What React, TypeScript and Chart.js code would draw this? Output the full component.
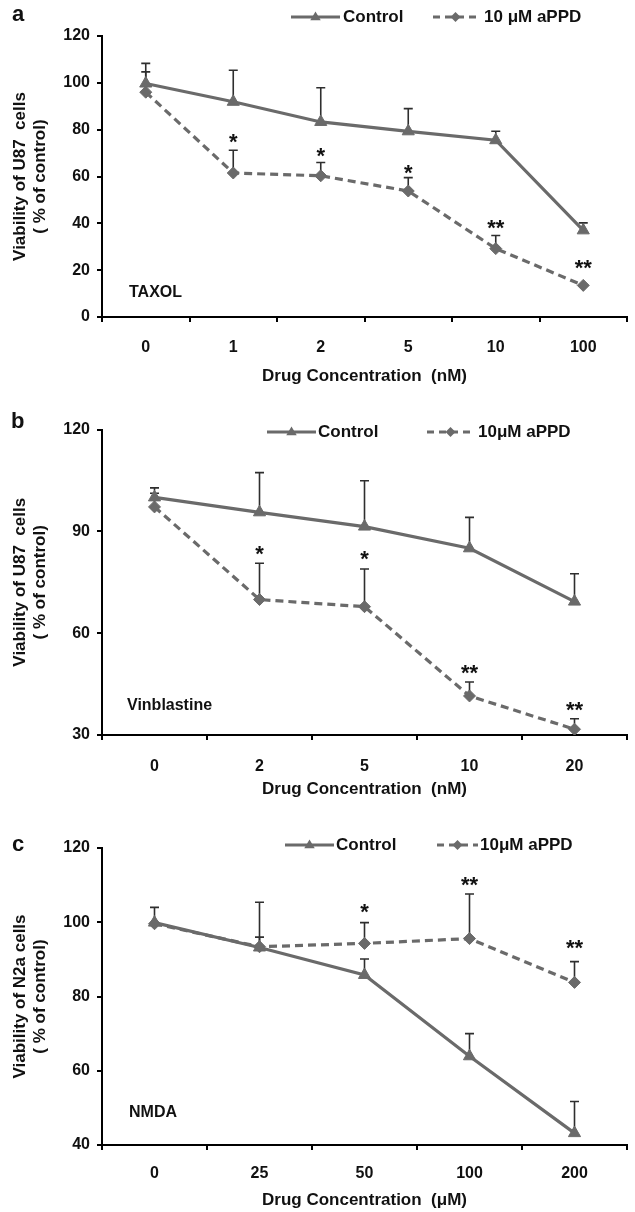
import React, { useEffect, useRef } from "react";
import { Chart, registerables } from "chart.js";

Chart.register(...registerables);

const FONT_FAMILY = '"Liberation Sans", Arial, Helvetica, sans-serif';
const LINE_GRAY = "#6a6a6a";
const ERR_COLOR = "#2e2e2e";
const TEXT_COLOR = "#111111";

// ---------- Panel a : TAXOL ----------
const taxolLabels = ["0", "1", "2", "5", "10", "100"];
const taxolControl = [99.7, 91.9, 83.3, 79.3, 75.5, 37.0];
const taxolControlErr = [108.3, 105.4, 97.9, 89.0, 79.3, 40.2];
const taxolAppd = [96.0, 61.5, 60.3, 53.8, 29.2, 13.5];
const taxolAppdErr = [104.7, 71.2, 66.0, 59.5, 34.8, null];
const taxolStars = ["", "*", "*", "*", "**", "**"];
const taxolStarValues = [null, 75.8, 69.8, 62.3, 38.9, 22.0];

// ---------- Panel b : Vinblastine ----------
const vinLabels = ["0", "2", "5", "10", "20"];
const vinControl = [100.0, 95.6, 91.4, 85.0, 69.3];
const vinControlErr = [102.8, 107.3, 104.9, 94.1, 77.5];
const vinAppd = [97.2, 69.9, 67.8, 41.5, 31.7];
const vinAppdErr = [101.2, 80.6, 78.9, 45.6, 34.8];
const vinStars = ["", "*", "*", "**", "**"];
const vinStarValues = [null, 84.0, 82.5, 48.9, 38.0];

// ---------- Panel c : NMDA ----------
const nmdaLabels = ["0", "25", "50", "100", "200"];
const nmdaControl = [99.9, 93.2, 85.8, 63.9, 43.2];
const nmdaControlErr = [104.0, 96.0, 90.1, 70.0, 51.7];
const nmdaAppd = [99.6, 93.4, 94.3, 95.6, 83.8];
const nmdaAppdErr = [null, 105.4, 99.9, 107.6, 89.4];
const nmdaStars = ["", "", "*", "**", "**"];
const nmdaStarValues = [null, null, 103.3, 110.6, 93.7];

type Panel = {
  letter: string;
  drug: string;
  labels: string[];
  control: number[];
  controlErr: (number | null)[];
  appd: number[];
  appdErr: (number | null)[];
  stars: string[];
  starValues: (number | null)[];
  yMin: number;
  yMax: number;
  yStep: number;
  yTitle: string[];
  xTitle: string;
  appdLegend: string;
  layout: {
    top: number;
    height: number;
    padTop: number;
    padRight: number;
    xAxisHeight: number;
    tickPad: number;
    titlePadBottom: number;
    legendY: number;
    controlLine: [number, number];
    controlText: number;
    appdLine: [number, number];
    appdText: number;
    letterX: number;
    letterY: number;
    drugDx: number;
    drugDy: number;
  };
};

const panels: Panel[] = [
  {
    letter: "a",
    drug: "TAXOL",
    labels: taxolLabels,
    control: taxolControl,
    controlErr: taxolControlErr,
    appd: taxolAppd,
    appdErr: taxolAppdErr,
    stars: taxolStars,
    starValues: taxolStarValues,
    yMin: 0,
    yMax: 120,
    yStep: 20,
    yTitle: ["Viability of U87  cells", "( % of control)"],
    xTitle: "Drug Concentration  (nM)",
    appdLegend: "10 \u03bcM aPPD",
    layout: {
      top: 0,
      height: 395,
      padTop: 36,
      padRight: 4.5,
      xAxisHeight: 78,
      tickPad: 16,
      titlePadBottom: 8,
      legendY: 17,
      controlLine: [291, 340],
      controlText: 343,
      appdLine: [433, 478],
      appdText: 484,
      letterX: 12,
      letterY: 15,
      drugDx: 27,
      drugDy: 24,
    },
  },
  {
    letter: "b",
    drug: "Vinblastine",
    labels: vinLabels,
    control: vinControl,
    controlErr: vinControlErr,
    appd: vinAppd,
    appdErr: vinAppdErr,
    stars: vinStars,
    starValues: vinStarValues,
    yMin: 30,
    yMax: 120,
    yStep: 30,
    yTitle: ["Viability of U87  cells", "( % of control)"],
    xTitle: "Drug Concentration  (nM)",
    appdLegend: "10\u03bcM aPPD",
    layout: {
      top: 395,
      height: 410,
      padTop: 34.5,
      padRight: 4.5,
      xAxisHeight: 70,
      tickPad: 17,
      titlePadBottom: 5,
      legendY: 37,
      controlLine: [267, 316],
      controlText: 318,
      appdLine: [427, 474],
      appdText: 478,
      letterX: 11,
      letterY: 27,
      drugDx: 25,
      drugDy: 29,
    },
  },
  {
    letter: "c",
    drug: "NMDA",
    labels: nmdaLabels,
    control: nmdaControl,
    controlErr: nmdaControlErr,
    appd: nmdaAppd,
    appdErr: nmdaAppdErr,
    stars: nmdaStars,
    starValues: nmdaStarValues,
    yMin: 40,
    yMax: 120,
    yStep: 20,
    yTitle: ["Viability of N2a cells", "( % of control)"],
    xTitle: "Drug Concentration  (\u03bcM)",
    appdLegend: "10\u03bcM aPPD",
    layout: {
      top: 805,
      height: 407,
      padTop: 43,
      padRight: 1,
      xAxisHeight: 67,
      tickPad: 14,
      titlePadBottom: 1,
      legendY: 40,
      controlLine: [285, 334],
      controlText: 336,
      appdLine: [437, 478],
      appdText: 480,
      letterX: 12,
      letterY: 40,
      drugDx: 27,
      drugDy: 32,
    },
  },
];

function drawTriangle(ctx: CanvasRenderingContext2D, x: number, y: number, r: number) {
  ctx.beginPath();
  ctx.moveTo(x, y - r);
  ctx.lineTo(x + r * 0.95, y + r * 0.6);
  ctx.lineTo(x - r * 0.95, y + r * 0.6);
  ctx.closePath();
  ctx.fill();
}

function drawDiamond(ctx: CanvasRenderingContext2D, x: number, y: number, r: number) {
  ctx.beginPath();
  ctx.moveTo(x, y - r);
  ctx.lineTo(x + r, y);
  ctx.lineTo(x, y + r);
  ctx.lineTo(x - r, y);
  ctx.closePath();
  ctx.fill();
}

function makePlugin(p: Panel) {
  return {
    id: "panelDecor" + p.letter,
    beforeDatasetsDraw(chart: any) {
      const ctx: CanvasRenderingContext2D = chart.ctx;
      const xs = chart.scales.x;
      const ys = chart.scales.y;
      ctx.save();
      ctx.strokeStyle = ERR_COLOR;
      ctx.lineWidth = 1.6;
      const series: [number[], (number | null)[]][] = [
        [p.control, p.controlErr],
        [p.appd, p.appdErr],
      ];
      series.forEach(([vals, errs]) => {
        vals.forEach((v, i) => {
          const e = errs[i];
          if (e === null || e === undefined) return;
          const x = xs.getPixelForValue(i);
          const y0 = ys.getPixelForValue(v);
          const y1 = ys.getPixelForValue(e);
          ctx.beginPath();
          ctx.moveTo(x, y0);
          ctx.lineTo(x, y1);
          ctx.moveTo(x - 4.5, y1);
          ctx.lineTo(x + 4.5, y1);
          ctx.stroke();
        });
      });
      ctx.restore();
    },
    afterDraw(chart: any) {
      const ctx: CanvasRenderingContext2D = chart.ctx;
      const xs = chart.scales.x;
      const ys = chart.scales.y;
      const area = chart.chartArea;
      const L = p.layout;
      ctx.save();
      // significance stars
      ctx.fillStyle = TEXT_COLOR;
      ctx.font = `bold 22px ${FONT_FAMILY}`;
      ctx.textAlign = "center";
      ctx.textBaseline = "middle";
      p.stars.forEach((s, i) => {
        const v = p.starValues[i];
        if (!s || v === null) return;
        ctx.fillText(s, xs.getPixelForValue(i), ys.getPixelForValue(v) + 3);
      });
      // drug label
      ctx.textAlign = "left";
      ctx.font = `bold 16px ${FONT_FAMILY}`;
      ctx.fillText(p.drug, area.left + L.drugDx, area.bottom - L.drugDy);
      // panel letter
      ctx.font = `bold 22px ${FONT_FAMILY}`;
      ctx.fillText(p.letter, L.letterX, L.letterY);
      // legend
      ctx.strokeStyle = LINE_GRAY;
      ctx.fillStyle = LINE_GRAY;
      ctx.lineWidth = 3;
      ctx.beginPath();
      ctx.moveTo(L.controlLine[0], L.legendY);
      ctx.lineTo(L.controlLine[1], L.legendY);
      ctx.stroke();
      drawTriangle(ctx, (L.controlLine[0] + L.controlLine[1]) / 2, L.legendY, 5.5);
      ctx.setLineDash([7, 5]);
      ctx.beginPath();
      ctx.moveTo(L.appdLine[0], L.legendY);
      ctx.lineTo(L.appdLine[1], L.legendY);
      ctx.stroke();
      ctx.setLineDash([]);
      drawDiamond(ctx, (L.appdLine[0] + L.appdLine[1]) / 2, L.legendY, 5);
      ctx.fillStyle = TEXT_COLOR;
      ctx.font = `bold 17px ${FONT_FAMILY}`;
      ctx.fillText("Control", L.controlText, L.legendY);
      ctx.fillText(p.appdLegend, L.appdText, L.legendY);
      ctx.restore();
    },
  };
}

function PanelChart({ panel }: { panel: Panel }) {
  const ref = useRef<HTMLCanvasElement | null>(null);
  useEffect(() => {
    if (!ref.current) return;
    const L = panel.layout;
    const tickFont = { family: FONT_FAMILY, size: 16, weight: "bold" as const };
    const titleFont = { family: FONT_FAMILY, size: 17, weight: "bold" as const, lineHeight: 1.2 };
    const chart = new Chart(ref.current, {
      type: "line",
      data: {
        labels: panel.labels,
        datasets: [
          {
            label: "Control",
            data: panel.control,
            borderColor: LINE_GRAY,
            backgroundColor: LINE_GRAY,
            borderWidth: 3.2,
            pointStyle: "triangle",
            pointRadius: 7,
            pointBackgroundColor: LINE_GRAY,
            pointBorderColor: LINE_GRAY,
            pointBorderWidth: 1,
            tension: 0,
            fill: false,
          },
          {
            label: panel.appdLegend,
            data: panel.appd,
            borderColor: LINE_GRAY,
            backgroundColor: LINE_GRAY,
            borderWidth: 3.2,
            borderDash: [8, 5],
            pointStyle: "rectRot",
            pointRadius: 6,
            pointBackgroundColor: LINE_GRAY,
            pointBorderColor: LINE_GRAY,
            pointBorderWidth: 1,
            tension: 0,
            fill: false,
          },
        ],
      },
      options: {
        responsive: false,
        maintainAspectRatio: false,
        animation: false,
        devicePixelRatio: 1,
        layout: { padding: { top: L.padTop, right: L.padRight, left: 0, bottom: 0 } },
        plugins: {
          legend: { display: false },
          tooltip: { enabled: false },
          title: { display: false },
        },
        scales: {
          x: {
            type: "category",
            offset: true,
            grid: {
              display: true,
              drawOnChartArea: false,
              drawTicks: true,
              tickLength: 5,
              color: "#000",
              lineWidth: 2,
              offset: true,
            },
            border: { display: true, color: "#000", width: 2 },
            ticks: { color: TEXT_COLOR, font: tickFont, padding: L.tickPad, maxRotation: 0 },
            title: {
              display: true,
              text: panel.xTitle,
              color: TEXT_COLOR,
              font: titleFont,
              padding: { top: 0, bottom: L.titlePadBottom },
            },
            afterFit: (s: any) => {
              s.height = L.xAxisHeight;
            },
          },
          y: {
            min: panel.yMin,
            max: panel.yMax,
            grid: {
              display: true,
              drawOnChartArea: false,
              drawTicks: true,
              tickLength: 5,
              color: "#000",
              lineWidth: 2,
            },
            border: { display: true, color: "#000", width: 2 },
            ticks: { stepSize: panel.yStep, color: TEXT_COLOR, font: tickFont, padding: 7 },
            title: {
              display: true,
              text: panel.yTitle,
              color: TEXT_COLOR,
              font: titleFont,
              padding: { top: 10, bottom: 0 },
            },
            afterFit: (s: any) => {
              s.width = 102;
            },
          },
        },
      },
      plugins: [makePlugin(panel)],
    } as any);
    return () => chart.destroy();
  }, [panel]);
  return (
    <canvas
      ref={ref}
      width={635}
      height={panel.layout.height}
      style={{ position: "absolute", left: 0, top: panel.layout.top, display: "block" }}
    />
  );
}

export default function App() {
  return (
    <div style={{ position: "absolute", left: 0, top: 0, width: 635, height: 1212, background: "#fff" }}>
      {panels.map((p) => (
        <PanelChart key={p.letter} panel={p} />
      ))}
    </div>
  );
}
